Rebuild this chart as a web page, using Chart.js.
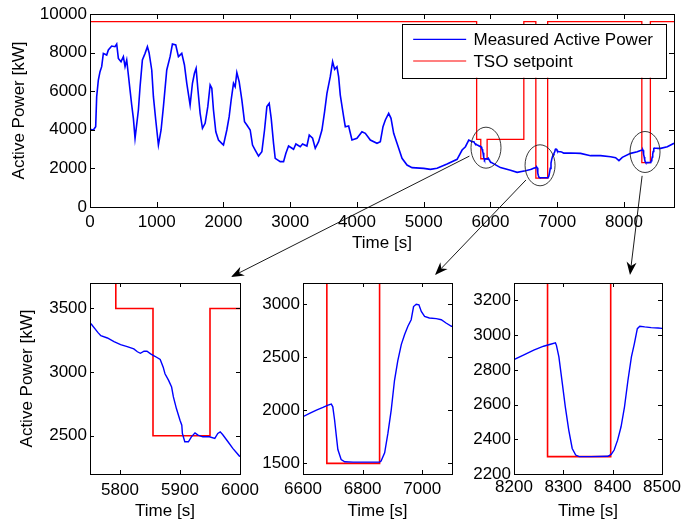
<!DOCTYPE html>
<html>
<head>
<meta charset="utf-8">
<script src="https://cdn.jsdelivr.net/npm/chart.js@4.4.1/dist/chart.umd.min.js"></script>
<style>
  html, body { margin: 0; padding: 0; background: #fff; }
  #wrap { position: relative; width: 685px; height: 526px; }
  #wrap canvas { position: absolute; left: 0; top: 0; }
</style>
</head>
<body>
<div id="wrap">
  <canvas id="main" width="685" height="526"></canvas>
  <canvas id="zoom1" width="685" height="526"></canvas>
  <canvas id="zoom2" width="685" height="526"></canvas>
  <canvas id="zoom3" width="685" height="526"></canvas>
</div>
<script>
// measured active power
const timeS = [
  0, 50, 85, 100, 125, 150, 175, 200, 250, 275, 325, 375, 400, 425, 465, 500, 525, 550, 575, 600,
  625, 650, 675, 690, 725, 750, 785, 825, 860, 885, 925, 950, 985, 1025, 1065, 1100, 1150, 1200, 1235, 1285,
  1325, 1375, 1415, 1450, 1500, 1535, 1565, 1590, 1615, 1650, 1685, 1725, 1765, 1800, 1825, 1850, 1885, 1925, 1985, 2000,
  2050, 2085, 2115, 2150, 2175, 2200, 2235, 2275, 2315, 2350, 2400, 2435, 2475, 2525, 2575, 2615, 2650, 2685, 2715, 2750,
  2775, 2850, 2900, 2935, 2975, 3050, 3085, 3150, 3185, 3250, 3285, 3335, 3375, 3425, 3475, 3515, 3550, 3600, 3635, 3665,
  3700, 3725, 3750, 3800, 3825, 3875, 3925, 4000, 4075, 4125, 4200, 4300, 4350, 4390, 4425, 4475, 4510, 4550, 4600, 4675,
  4750, 4825, 5000, 5100, 5200, 5350, 5500, 5575, 5625, 5675, 5725,
  5752, 5763, 5768, 5779, 5790, 5801, 5812, 5823, 5829, 5834, 5840, 5845, 5851, 5856, 5861, 5867, 5872, 5875, 5881, 5886,
  5889, 5894, 5900, 5903, 5904, 5908, 5914, 5919, 5925, 5930, 5938, 5949, 5958, 5963, 5967, 5971, 5980, 5988, 5999,
  6150, 6300, 6400, 6525,
  6600, 6622, 6645, 6667, 6684, 6695, 6700, 6706, 6712, 6717, 6728, 6740, 6768, 6812, 6857, 6862, 6874, 6885, 6896, 6907,
  6918, 6930, 6941, 6952, 6963, 6971, 6980, 6989, 6997, 7008, 7024, 7047, 7064, 7080, 7098,
  7200, 7350, 7500, 7650, 7800, 7875, 7925, 7975, 8100,
  8200, 8219, 8240, 8260, 8274, 8284, 8286, 8291, 8298, 8304, 8311, 8318, 8325, 8332, 8356, 8390, 8397, 8403, 8410, 8417,
  8424, 8431, 8438, 8444, 8450, 8455, 8465, 8478, 8492, 8506, 8550, 8650, 8750
];
const powerKW = [
  4025, 3990, 4160, 5715, 6580, 7010, 7270, 7960, 7875, 8135, 8340, 8305, 8445, 7700, 7530, 7790, 7270, 7615, 6840, 6060,
  5285, 4595, 3560, 3990, 5025, 6230, 7615, 7960, 8305, 7995, 7100, 5715, 4510, 3210, 3990, 5200, 7100, 7790, 8445, 8395,
  7790, 7960, 7360, 6410, 5285, 6410, 6930, 7185, 6150, 4855, 4075, 4335, 5200, 6320, 6150, 5025, 3900, 3470, 3260, 3210,
  3990, 4680, 5545, 6410, 6230, 6960, 6490, 5545, 4420, 4250, 3990, 3210, 2950, 2640, 2865, 3990, 5200, 5370, 4595, 3300,
  2523, 2350, 2350, 2780, 3160, 2990, 3265, 3124, 3265, 3160, 3730, 3560, 3040, 3385, 3990, 4940, 5890, 6750, 7530, 7135,
  7270, 6750, 5800, 4680, 4160, 4195, 3470, 3560, 3900, 3820, 3470, 3300, 3385, 4160, 4510, 4855, 4595, 3820, 3300, 2523,
  2176, 2038, 2003, 1950, 2003, 2228, 2470, 2953, 3124, 3470, 3384,
  3378, 3312, 3286, 3268, 3240, 3216, 3200, 3182, 3160, 3148, 3164, 3164, 3143, 3130, 3117, 3099, 3039, 2987, 2935, 2883,
  2805, 2714, 2622, 2583, 2518, 2453, 2453, 2492, 2523, 2505, 2492, 2492, 2479, 2518, 2531, 2510, 2453, 2401, 2341,
  2040, 1900, 1796, 1882,
  1940, 1971, 2002, 2027, 2049, 2058, 2033, 1909, 1754, 1630, 1537, 1515, 1512, 1512, 1512, 1522, 1599, 1785, 2002, 2281,
  2467, 2622, 2715, 2792, 2854, 2978, 3000, 2994, 2932, 2885, 2870, 2864, 2854, 2823, 2792,
  2800, 2780, 2660, 2660, 2606, 2555, 2400, 2573, 2780,
  2859, 2884, 2913, 2936, 2947, 2955, 2941, 2874, 2721, 2587, 2453, 2347, 2309, 2300, 2300, 2302, 2313, 2338, 2395, 2472,
  2587, 2740, 2874, 2951, 3037, 3051, 3047, 3043, 3041, 3037, 3040, 3124, 3300
];
// TSO setpoint (step changes)
const tsoTimeS = [0, 5793, 5855, 5950, 6500, 6680, 6857, 8268, 8396, 8750];
const tsoKW = [9600, 3500, 2500, 3500, 9600, 1500, 9600, 2300, 9600, 9600];

// tick labels
const mainXTicks = [0, 1000, 2000, 3000, 4000, 5000, 6000, 7000, 8000];
const mainYTicks = [0, 2000, 4000, 6000, 8000, 10000];
const zoom1XTicks = [5800, 5900, 6000];
const zoom1YTicks = [2500, 3000, 3500];
const zoom2XTicks = [6600, 6800, 7000];
const zoom2YTicks = [1500, 2000, 2500, 3000];
const zoom3XTicks = [8200, 8300, 8400, 8500];
const zoom3YTicks = [2200, 2400, 2600, 2800, 3000, 3200];

const W = 685, H = 526;
const FONT = "'Liberation Sans', Arial, Helvetica, sans-serif";
const RING = { rx: 15, ry: 20.5 };

const measured = timeS.map((t, i) => ({ x: t, y: powerKW[i] }));
const setpoint = tsoTimeS.map((t, i) => ({ x: t, y: tsoKW[i] }));

// box round the plot + inward tick marks on all four sides (matlab look)
const frame = {
  id: 'frame',
  afterDatasetsDraw(chart, args, o) {
    const { ctx, chartArea: a, scales: { x, y } } = chart;
    const L = o.tickLen;
    ctx.save();
    ctx.strokeStyle = '#000';
    ctx.lineWidth = 1;
    ctx.beginPath();
    x.ticks.forEach(t => {
      const p = Math.round(x.getPixelForValue(t.value)) + 0.5;
      ctx.moveTo(p, a.bottom); ctx.lineTo(p, a.bottom - L);
      ctx.moveTo(p, a.top); ctx.lineTo(p, a.top + L);
    });
    y.ticks.forEach(t => {
      const p = Math.round(y.getPixelForValue(t.value)) + 0.5;
      ctx.moveTo(a.left, p); ctx.lineTo(a.left + L, p);
      ctx.moveTo(a.right, p); ctx.lineTo(a.right - L, p);
    });
    ctx.stroke();
    ctx.strokeRect(Math.round(a.left) + 0.5, Math.round(a.top) + 0.5,
      Math.round(a.right - a.left), Math.round(a.bottom - a.top));
    ctx.restore();
  }
};

// ellipses marking the zoomed parts
const zoomRings = {
  id: 'zoomRings',
  afterDatasetsDraw(chart, args, o) {
    const { ctx, scales: { x, y } } = chart;
    ctx.save();
    ctx.strokeStyle = '#222';
    ctx.lineWidth = 0.9;
    o.rings.forEach(r => {
      ctx.beginPath();
      ctx.ellipse(x.getPixelForValue(r.x), y.getPixelForValue(r.y), RING.rx, RING.ry, 0, 0, 2 * Math.PI);
      ctx.stroke();
    });
    ctx.restore();
  }
};

// legend box inside the top right corner
const boxLegend = {
  id: 'boxLegend',
  afterDraw(chart, args, o) {
    const { ctx, chartArea: a } = chart;
    const items = chart.data.datasets;
    ctx.save();
    ctx.font = '17px ' + FONT;
    const textW = Math.max(...items.map(d => ctx.measureText(d.label).width));
    const w = o.padLeft + o.sample + o.gap + textW + o.padRight;
    const right = a.right - o.inset[0], top = a.top + o.inset[1];
    const left = right - w;
    ctx.fillStyle = '#fff';
    ctx.fillRect(left, top, w, o.height);
    ctx.strokeStyle = '#000';
    ctx.lineWidth = 1;
    ctx.strokeRect(Math.round(left) + 0.5, Math.round(top) + 0.5, Math.round(w), Math.round(o.height));
    items.forEach((d, i) => {
      const yy = top + o.rows[i];
      ctx.strokeStyle = d.borderColor;
      ctx.lineWidth = 1.2;
      ctx.beginPath();
      ctx.moveTo(left + o.padLeft, yy);
      ctx.lineTo(left + o.padLeft + o.sample, yy);
      ctx.stroke();
      ctx.fillStyle = '#000';
      ctx.textAlign = 'left';
      ctx.textBaseline = 'middle';
      ctx.fillText(d.label, left + o.padLeft + o.sample + o.gap, yy + 1);
    });
    ctx.restore();
  }
};

let mainChart = null;

// arrow from the ellipse on the main plot to the zoom plot
const zoomArrow = {
  id: 'zoomArrow',
  afterDraw(chart, args, o) {
    if (!mainChart) return;
    const { ctx, chartArea: a } = chart;
    const cx = mainChart.scales.x.getPixelForValue(o.ring.x);
    const cy = mainChart.scales.y.getPixelForValue(o.ring.y);
    const tx = a.right + o.tip[0], ty = a.top + o.tip[1];
    let ux = (tx - cx) / RING.rx, uy = (ty - cy) / RING.ry;
    const n = Math.hypot(ux, uy);
    ux /= n; uy /= n;
    const sx = cx + ux * RING.rx * 1.18, sy = cy + uy * RING.ry * 1.18;
    const ang = Math.atan2(ty - sy, tx - sx);
    const c = Math.cos(ang), s = Math.sin(ang);
    const hl = 13, hw = 5, notch = 4;
    ctx.save();
    ctx.strokeStyle = '#000';
    ctx.fillStyle = '#000';
    ctx.lineWidth = 0.9;
    ctx.beginPath();
    ctx.moveTo(sx, sy);
    ctx.lineTo(tx - c * (hl - notch), ty - s * (hl - notch));
    ctx.stroke();
    ctx.beginPath();
    ctx.moveTo(tx, ty);
    ctx.lineTo(tx - c * hl - s * hw, ty - s * hl + c * hw);
    ctx.lineTo(tx - c * (hl - notch), ty - s * (hl - notch));
    ctx.lineTo(tx - c * hl + s * hw, ty - s * hl - c * hw);
    ctx.closePath();
    ctx.fill();
    ctx.restore();
  }
};

function axisFont() {
  return { family: FONT, size: 17 };
}

function makeChart(id, c) {
  const a = c.area;
  return new Chart(document.getElementById(id), {
    type: 'line',
    data: {
      datasets: [
        { label: 'Measured Active Power', data: measured, borderColor: '#0000ff',
          borderWidth: c.blueW, pointRadius: 0, tension: 0, fill: false },
        { label: 'TSO setpoint', data: setpoint, borderColor: '#ff0000',
          borderWidth: c.redW, pointRadius: 0, stepped: 'before', fill: false }
      ]
    },
    options: {
      responsive: false,
      animation: false,
      events: [],
      layout: { padding: { left: 0, top: a.top, right: W - a.right, bottom: 0 } },
      plugins: Object.assign({
        legend: { display: false },
        tooltip: { enabled: false },
        frame: { tickLen: c.tickLen }
      }, c.plugins || {}),
      scales: {
        x: {
          type: 'linear', min: c.xRange[0], max: c.xRange[1],
          afterFit: s => { s.height = H - a.bottom; },
          afterBuildTicks: s => { s.ticks = c.xTicks.map(v => ({ value: v })); },
          grid: { display: false, drawTicks: false },
          border: { display: false },
          ticks: { color: '#000', font: axisFont(), padding: c.xPad, maxRotation: 0,
                   autoSkip: false, callback: v => String(v) },
          title: { display: true, text: 'Time [s]', color: '#000', font: axisFont(),
                   padding: { top: 0, bottom: c.xTitlePad } }
        },
        y: {
          type: 'linear', min: c.yRange[0], max: c.yRange[1],
          afterFit: s => { s.width = a.left; },
          afterBuildTicks: s => { s.ticks = c.yTicks.map(v => ({ value: v })); },
          grid: { display: false, drawTicks: false },
          border: { display: false },
          ticks: { color: '#000', font: axisFont(), padding: 3, autoSkip: false,
                   callback: v => String(v) },
          title: { display: !!c.yTitlePad, text: 'Active Power [kW]', color: '#000',
                   font: axisFont(), padding: { top: c.yTitlePad || 0, bottom: 0 } }
        }
      }
    },
    plugins: [frame].concat(c.extra || [])
  });
}

const rings = [
  { x: 5933, y: 3073 },
  { x: 6743, y: 2161 },
  { x: 8316, y: 2850 }
];

mainChart = makeChart('main', {
  area: { left: 90, top: 14, right: 674, bottom: 207 },
  xRange: [0, 8750], yRange: [0, 10000],
  xTicks: mainXTicks, yTicks: mainYTicks,
  blueW: 1.6, redW: 1.3, tickLen: 5,
  xPad: 5.2, xTitlePad: 272, yTitlePad: 9,
  extra: [zoomRings, boxLegend],
  plugins: {
    zoomRings: { rings: rings },
    boxLegend: { inset: [8, 10], padLeft: 11, sample: 53, gap: 7.3, padRight: 13,
                 height: 53.7, rows: [15.3, 37] }
  }
});

makeChart('zoom1', {
  area: { left: 90, top: 283, right: 240, bottom: 474 },
  xRange: [5750, 6000], yRange: [2200, 3700],
  xTicks: zoom1XTicks, yTicks: zoom1YTicks,
  blueW: 1.4, redW: 1.6, tickLen: 4,
  xPad: 5.8, xTitlePad: 4.5, yTitlePad: 17.2,
  extra: [zoomArrow],
  plugins: { zoomArrow: { ring: rings[0], tip: [-9, -6] } }
});

makeChart('zoom2', {
  area: { left: 303, top: 283, right: 452, bottom: 474 },
  xRange: [6600, 7100], yRange: [1400, 3200],
  xTicks: zoom2XTicks, yTicks: zoom2YTicks,
  blueW: 1.4, redW: 1.6, tickLen: 4,
  xPad: 5, xTitlePad: 4.5,
  extra: [zoomArrow],
  plugins: { zoomArrow: { ring: rings[1], tip: [-17, -8] } }
});

makeChart('zoom3', {
  area: { left: 514, top: 283, right: 662, bottom: 474 },
  xRange: [8200, 8500], yRange: [2200, 3300],
  xTicks: zoom3XTicks, yTicks: zoom3YTicks,
  blueW: 1.4, redW: 1.6, tickLen: 4,
  xPad: 3.3, xTitlePad: 4.5,
  extra: [zoomArrow],
  plugins: { zoomArrow: { ring: rings[2], tip: [-32, -8] } }
});
</script>
</body>
</html>
